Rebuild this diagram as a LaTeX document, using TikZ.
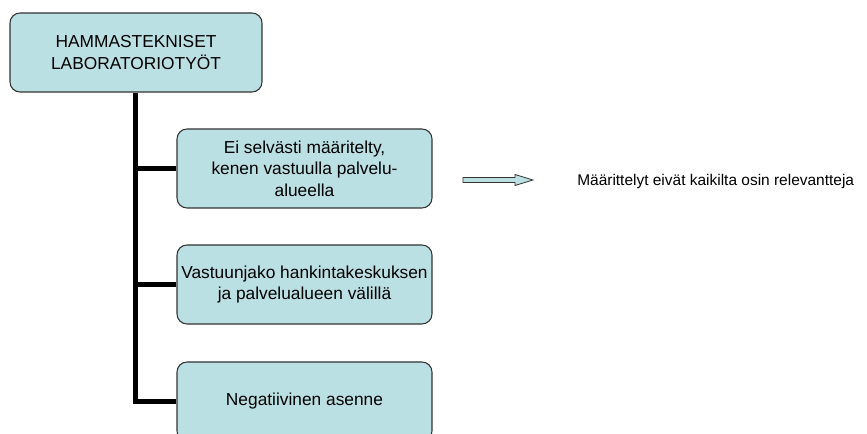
\documentclass[tikz,border=0pt]{standalone}
\usepackage{fontspec}
\setmainfont{Liberation Sans}
\definecolor{boxfill}{HTML}{BBE0E3}
\definecolor{boxline}{HTML}{333333}
\begin{document}
\begin{tikzpicture}[x=0.75pt,y=-0.75pt,
  box/.style={draw=boxline,line width=0.8pt,fill=boxfill,rounded corners=7.5pt,
    minimum width=191.25pt,minimum height=59.25pt,inner sep=0pt,align=center,
    font=\fontsize{13}{16}\selectfont},
  trunk/.style={line width=4.1pt,black,line join=miter}]
\useasboundingbox (0,0) rectangle (867,434);
\node[box,minimum width=189pt] (top) at (136,52.5) {HAMMASTEKNISET\\LABORATORIOTYÖT};
\node[box] (b1) at (304.5,168.5) {Ei selvästi määritelty,\\kenen vastuulla palvelu-\\alueella};
\node[box] (b2) at (304.5,284.5) {Vastuunjako hankintakeskuksen\\ja palvelualueen välillä};
\node[box] (b3) at (304.5,401.5) {Negatiivinen asenne};
\coordinate (jn) at (135.5,401.5);
\draw[trunk] (top.south -| jn) -- (jn) -- (b3.west);
\draw[trunk] (b1.west -| jn) -- (b1.west);
\draw[trunk] (b2.west -| jn) -- (b2.west);
\node[anchor=west,inner sep=0pt,font=\fontsize{11.6}{14}\selectfont] (note) at (577,182) {Määrittelyt eivät kaikilta osin relevantteja};
\coordinate (a0) at (463,180);
\draw[draw=boxline,line width=0.6pt,fill=boxfill]
  (463,177.5) -- (515,177.5) -- (515,174.5) -- (533,180) -- (515,185.5) -- (515,182.5) -- (463,182.5) -- cycle;
\end{tikzpicture}
\end{document}
